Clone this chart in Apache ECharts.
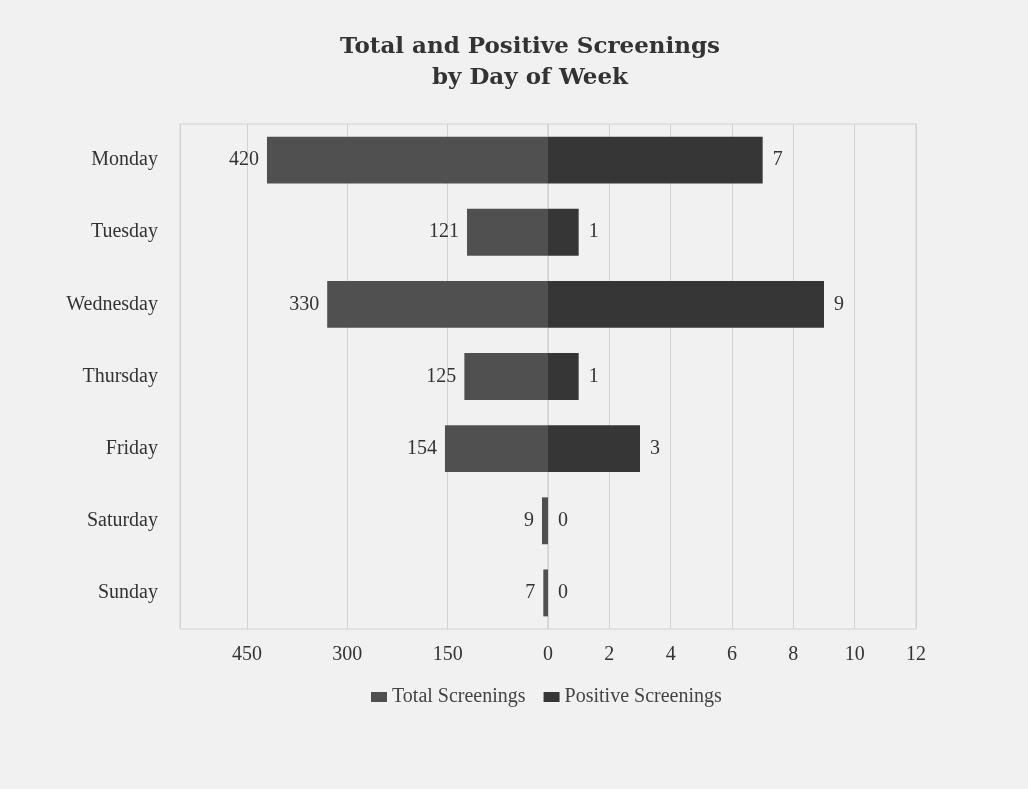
<!DOCTYPE html>
<html><head><meta charset="utf-8">
<script src="https://cdn.jsdelivr.net/npm/echarts@6/dist/echarts.min.js"></script>
<style>html,body{margin:0;padding:0;background:#f1f1f1;}#c{width:1028px;height:789px;}</style>
</head><body><div id="c"></div>
<script>
const days = ['Monday','Tuesday','Wednesday','Thursday','Friday','Saturday','Sunday'];
const totalScreenings = [420,121,330,125,154,9,7];
const positiveScreenings = [7,1,9,1,3,0,0];
const totalTicks = {min:0, max:550, interval:150};
const positiveTicks = {min:0, max:12, interval:2};

const font = '"Liberation Serif", "Times New Roman", serif';
const titleFont = '"DejaVu Serif", "Liberation Serif", serif';
const chart = echarts.init(document.getElementById('c'));
chart.setOption({
  backgroundColor:'#f1f1f1',
  animation:false,
  textStyle:{fontFamily:font},
  title:{text:'Total and Positive Screenings\nby Day of Week', left:525, textAlign:'center', top:27,
    textStyle:{fontFamily:titleFont, fontSize:23, fontWeight:'bold', color:'#333', lineHeight:31}},
  legend:{data:['Total Screenings','Positive Screenings'], top:682, left:366, itemWidth:16, itemHeight:10, itemGap:18,
    icon:'rect', textStyle:{fontFamily:font, fontSize:20, color:'#444'}},
  grid:[
    {left:180, right:480, top:124, bottom:160, show:true, borderColor:'#d2d2d2', borderWidth:1},
    {left:548, right:112, top:124, bottom:160, show:true, borderColor:'#d2d2d2', borderWidth:1}
  ],
  xAxis:[
    {type:'value', gridIndex:0, inverse:true, min:totalTicks.min, max:totalTicks.max, interval:totalTicks.interval,
      axisLine:{show:false}, axisTick:{show:false},
      axisLabel:{showMaxLabel:false, showMinLabel:false, fontFamily:font, fontSize:20, color:'#333', margin:16},
      splitLine:{lineStyle:{color:'#d2d2d2'}}},
    {type:'value', gridIndex:1, min:positiveTicks.min, max:positiveTicks.max, interval:positiveTicks.interval,
      axisLine:{show:false}, axisTick:{show:false},
      axisLabel:{fontFamily:font, fontSize:20, color:'#333', margin:16},
      splitLine:{lineStyle:{color:'#d2d2d2'}}}
  ],
  yAxis:[
    {type:'category', gridIndex:0, data:days, inverse:true, axisLine:{show:false}, axisTick:{show:false},
      axisLabel:{fontFamily:font, fontSize:20, color:'#333', margin:22}},
    {type:'category', gridIndex:1, data:days, inverse:true, axisLine:{show:false}, axisTick:{show:false},
      axisLabel:{show:false}}
  ],
  series:[
    {name:'Total Screenings', type:'bar', xAxisIndex:0, yAxisIndex:0, data:totalScreenings, barWidth:'65%',
      itemStyle:{color:'#505050'},
      label:{show:true, position:'left', distance:8, fontFamily:font, fontSize:20, color:'#333'}},
    {name:'Positive Screenings', type:'bar', xAxisIndex:1, yAxisIndex:1, data:positiveScreenings, barWidth:'65%',
      itemStyle:{color:'#363636'},
      label:{show:true, position:'right', distance:10, fontFamily:font, fontSize:20, color:'#333'}}
  ]
});
</script></body></html>
